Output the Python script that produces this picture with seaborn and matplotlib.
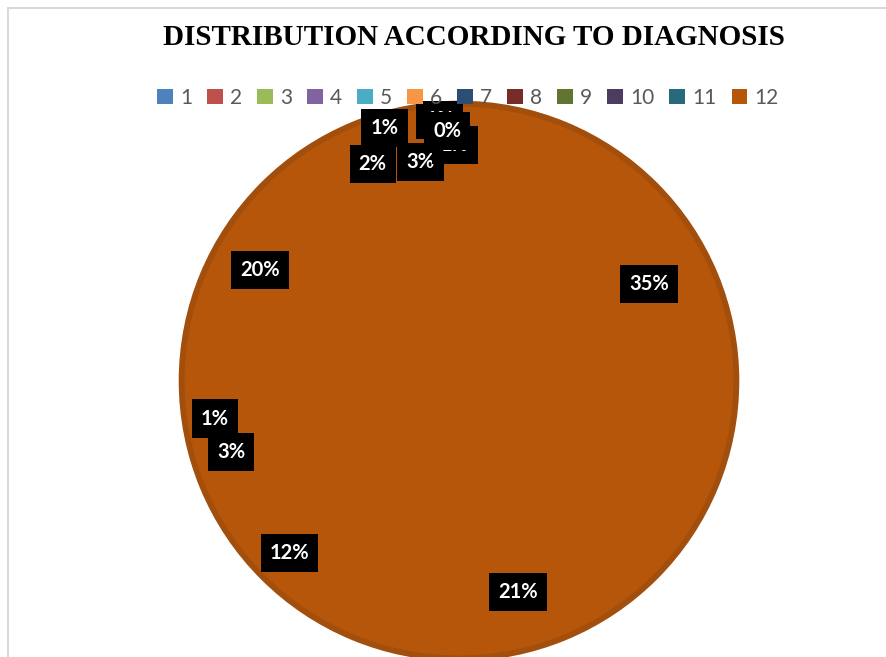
import numpy as np
import matplotlib
matplotlib.use("Agg")
import matplotlib.pyplot as plt
import matplotlib.patches as mpatches
import seaborn as sns

sns.set_theme(style="white")
plt.rcParams['font.family'] = ['Lato', 'DejaVu Sans']

# Data (shares in %, rounded labels match the chart)
diagnosis = ['1', '2', '3', '4', '5', '6', '7', '8', '9', '10', '11', '12']
share = [35.4, 21.4, 12.4, 3.4, 1.4, 19.9, 2.0, 1.0, 2.6, 0.6, 0.3, 0.6]
legend_colors = ['#4F81BD', '#C0504D', '#9BBB59', '#8064A2', '#4BACC6', '#F79646',
                 '#2C4D75', '#772C2A', '#5F7530', '#4D3B62', '#276A7C', '#B65708']
slice_color = '#B5560A'
ring_color = '#A24E0C'
# radial position of each data label (fraction of radius), "best fit" look
label_radius = [0.76, 0.78, 0.86, 0.85, 0.88, 0.81, 0.83, 0.94, 0.79, 0.93, 0.89, 0.84]

fig = plt.figure(figsize=(8.86, 6.57), dpi=100)

# chart-area border (left / top only visible)
fig.patches.append(mpatches.Rectangle((8 / 886, -0.1), 1.2, 1 - 8 / 657 + 0.1,
                                      transform=fig.transFigure, fill=False,
                                      edgecolor='#D9D9D9', linewidth=1.5))

ax = fig.add_axes([178 / 886, (657 - 381 - 281) / 657, 562 / 886, 562 / 657])

# darker outer ring, then the slices on top
ax.pie([1], colors=[ring_color], radius=1.0, startangle=90)
wedges, texts, autotexts = ax.pie(
    share, colors=[slice_color] * len(share), radius=0.975,
    startangle=90, counterclock=False,
    autopct='%.0f%%', pctdistance=0.83,
    wedgeprops=dict(linewidth=0.8, edgecolor=slice_color),
    textprops=dict(color='white', fontsize=14.5, fontweight='bold'))

for w, t, r in zip(wedges, autotexts, label_radius):
    mid = np.deg2rad((w.theta1 + w.theta2) / 2)
    t.set_position((r * np.cos(mid), r * np.sin(mid)))
    t.set_bbox(dict(facecolor='black', edgecolor='none', boxstyle='square,pad=0.45'))

# the 0% label sits on top of its neighbours
autotexts[10].set_zorder(5)

ax.set_xlim(-1, 1)
ax.set_ylim(-1, 1)
ax.set_aspect('equal')
ax.axis('off')

fig.text(0.535, 0.943, "DISTRIBUTION ACCORDING TO DIAGNOSIS",
         ha='center', va='center', fontsize=21, fontweight='bold',
         family='Liberation Serif', color='black')

handles = [mpatches.Patch(facecolor=c, edgecolor='none') for c in legend_colors]
fig.legend(handles, diagnosis, loc='center', bbox_to_anchor=(0.528, 0.851),
           ncol=12, frameon=False, fontsize=15, labelcolor='#595959',
           handlelength=0.75, handleheight=0.75, handletextpad=0.35,
           columnspacing=0.72)

fig.savefig("out.png", dpi=100)
